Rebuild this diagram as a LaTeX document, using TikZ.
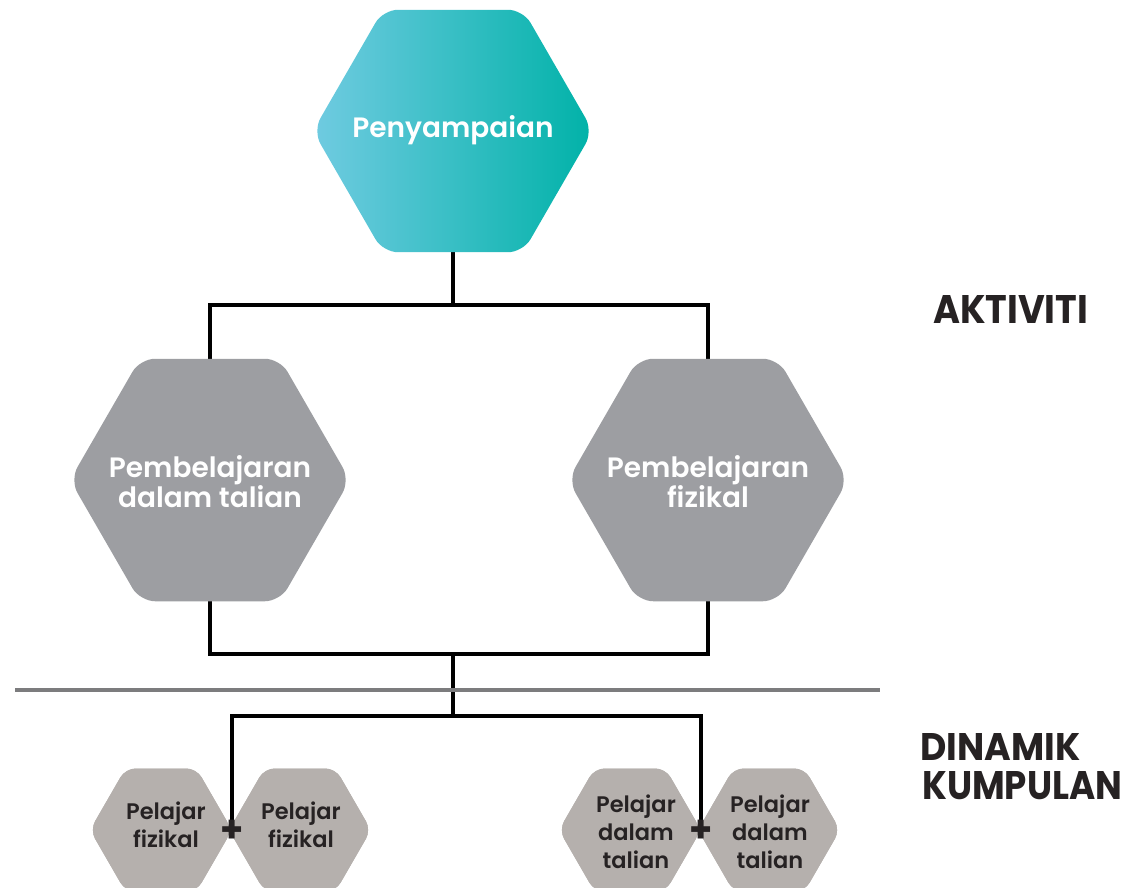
\documentclass[tikz,border=0pt]{standalone}
\usepackage{fontspec}
\setmainfont{Poppins}
\newfontfamily\semifont{Poppins SemiBold}
\usetikzlibrary{shapes.geometric}

\definecolor{tealL}{RGB}{112,203,225}
\definecolor{tealM}{RGB}{24,189,192}
\definecolor{tealR}{RGB}{0,178,168}
\definecolor{midgray}{RGB}{157,158,162}
\definecolor{warmgray}{RGB}{181,176,173}
\definecolor{ink}{RGB}{38,34,35}
\definecolor{rulegray}{RGB}{124,124,126}

\begin{document}
\begin{tikzpicture}[x=1pt,y=-1pt,
  hexbase/.style={regular polygon, regular polygon sides=6, inner sep=0pt,
    outer sep=0pt, draw=none},
  bighex/.style={hexbase, minimum size=280pt, rounded corners=15pt},
  smallhex/.style={hexbase, minimum size=142pt, rounded corners=10pt, fill=warmgray},
  toptext/.style={text=white, inner sep=0pt, font=\semifont\fontsize{28}{30}\selectfont},
  midtext/.style={text=white, inner sep=0pt, align=center,
    font=\semifont\fontsize{28}{30}\selectfont},
  smalltext/.style={text=ink, inner sep=0pt, align=center,
    font=\semifont\fontsize{22.5}{28}\selectfont},
  plus/.style={text=ink, inner sep=0pt, font=\bfseries\fontsize{37}{37}\selectfont},
  heading/.style={anchor=north west, inner sep=0pt, text=ink},
  link/.style={line width=4pt, black},
  rule/.style={line width=4pt, rulegray}]

\useasboundingbox (0,0) rectangle (1129,888);
\clip (0,0) rectangle (1129,888);

% junctions of the connector buses
\coordinate (busA) at (453,305);
\coordinate (busB) at (453,654);
\coordinate (busC) at (453,716);

% hexagon outlines, placed first so the connectors can attach to them
\node[bighex] (top) at (453,131) {};
\node[bighex] (online) at (210,480) {};
\node[bighex] (physical) at (708,480) {};
\node[smallhex] (s1) at (161,830) {};
\node[smallhex] (s2) at (300,830) {};
\node[smallhex] (s3) at (630,830) {};
\node[smallhex] (s4) at (769,830) {};

% connectors (the hexagon faces are drawn over their ends)
\draw[link] (top.south) -- (busA);
\draw[link] (online.north) |- (busA) -| (physical.north);
\draw[link] (online.south) |- (busB) -| (physical.south);
\draw[link] (busB) -- (busC);
\draw[link] (s1.east) |- (busC) -| (s3.east);

% separator rule
\draw[rule] (15,690) -- (880,690);

% hexagon faces
\path[rounded corners=15pt, left color=tealL, middle color=tealM, right color=tealR]
  (top.corner 1) -- (top.corner 2) -- (top.corner 3) -- (top.corner 4)
  -- (top.corner 5) -- (top.corner 6) -- cycle;
\node[bighex, fill=midgray] at (online) {};
\node[bighex, fill=midgray] at (physical) {};
\node[smallhex] at (s1) {};
\node[smallhex] at (s2) {};
\node[smallhex] at (s3) {};
\node[smallhex] at (s4) {};

% labels
\node[toptext, anchor=base] (tTop) at (453,138) {Penyampaian};
\node[midtext] (tOnline) at (210,482) {Pembelajaran\\dalam talian};
\node[midtext] (tPhysical) at (708,482) {Pembelajaran\\fizikal};
\node[smalltext] (t1) at (166,825) {Pelajar\\fizikal};
\node[smalltext] (t2) at (301,825) {Pelajar\\fizikal};
\node[smalltext] (t3) at (636,832) {Pelajar\\dalam\\talian};
\node[smalltext] (t4) at (770,832) {Pelajar\\dalam\\talian};
\node[plus] (p1) at ([yshift=-1pt]s1.east) {+};
\node[plus] (p2) at ([yshift=-1pt]s3.east) {+};

% section headings
\node[heading] (hAct) at (933,295) {\resizebox{155pt}{28pt}{\bfseries AKTIVITI}};
\node[heading] (hDyn1) at (920,733) {\resizebox{160pt}{27pt}{\bfseries DINAMIK}};
\node[heading] (hDyn2) at (922,771) {\resizebox{200pt}{28pt}{\bfseries KUMPULAN}};
\end{tikzpicture}
\end{document}
